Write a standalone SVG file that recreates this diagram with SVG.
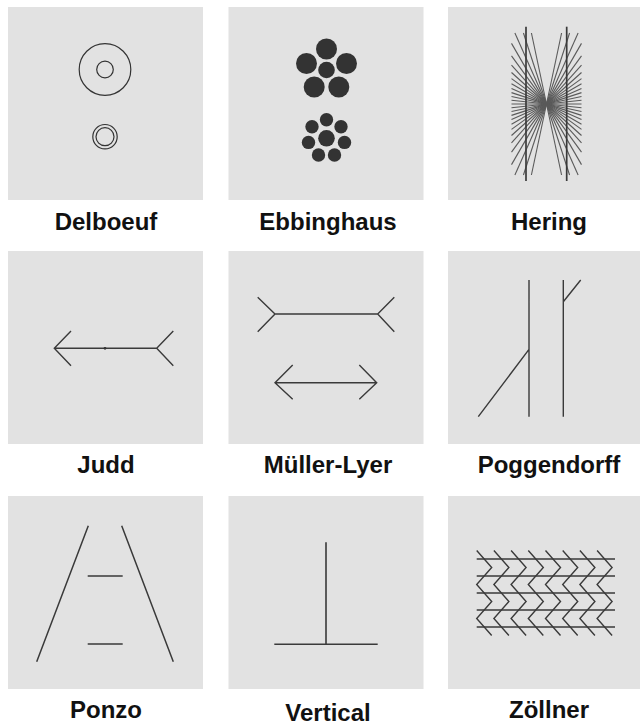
<svg xmlns="http://www.w3.org/2000/svg" width="640" height="726" viewBox="0 0 640 726">
<style>
.panel{fill:#e2e2e2;stroke:none}
.ln{stroke:#3a3a3a;stroke-width:1.4;fill:none;stroke-linecap:butt}
.ring{stroke:#333;stroke-width:1.2;fill:none}
.dot{fill:#333}
.ray{stroke:#5a5a5a;stroke-width:1.1}
.lbl{font-family:"Liberation Sans",Arial,sans-serif;font-weight:bold;font-size:24px;fill:#111;text-anchor:middle}
</style>
<rect width="640" height="726" fill="#ffffff"/>

<g id="delboeuf">
<rect class="panel" x="8" y="7" width="195" height="193"/>
<circle class="ring" cx="105" cy="69.5" r="25.8"/>
<circle class="ring" cx="105" cy="69.5" r="8.3"/>
<circle class="ring" cx="105" cy="136.7" r="12.2"/>
<circle class="ring" cx="105" cy="136.7" r="9"/>
<text class="lbl" x="106" y="230">Delboeuf</text>
</g>

<g id="ebbinghaus">
<rect class="panel" x="228.5" y="7" width="195" height="193"/>
<circle class="dot" cx="326.5" cy="70" r="8.3"/>
<circle class="dot" cx="326.5" cy="49" r="10.5"/>
<circle class="dot" cx="346.5" cy="63.5" r="10.5"/>
<circle class="dot" cx="338.8" cy="87" r="10.5"/>
<circle class="dot" cx="314.2" cy="87" r="10.5"/>
<circle class="dot" cx="306.5" cy="63.5" r="10.5"/>
<circle class="dot" cx="326.5" cy="138.3" r="8.3"/>
<circle class="dot" cx="326.5" cy="119.8" r="6.7"/>
<circle class="dot" cx="341" cy="126.8" r="6.7"/>
<circle class="dot" cx="344.5" cy="142.4" r="6.7"/>
<circle class="dot" cx="334.5" cy="155" r="6.7"/>
<circle class="dot" cx="318.5" cy="155" r="6.7"/>
<circle class="dot" cx="308.5" cy="142.4" r="6.7"/>
<circle class="dot" cx="312" cy="126.8" r="6.7"/>
<text class="lbl" x="328" y="230">Ebbinghaus</text>
</g>

<g id="hering">
<rect class="panel" x="448" y="7" width="195" height="193"/>
<g class="ray">
<line x1="511.5" y1="104" x2="581.5" y2="104"/>
<line x1="511.5" y1="100.32" x2="581.5" y2="107.68"/>
<line x1="511.5" y1="107.68" x2="581.5" y2="100.32"/>
<line x1="511.5" y1="96.56" x2="581.5" y2="111.44"/>
<line x1="511.5" y1="111.44" x2="581.5" y2="96.56"/>
<line x1="511.5" y1="92.63" x2="581.5" y2="115.37"/>
<line x1="511.5" y1="115.37" x2="581.5" y2="92.63"/>
<line x1="511.5" y1="88.42" x2="581.5" y2="119.58"/>
<line x1="511.5" y1="119.58" x2="581.5" y2="88.42"/>
<line x1="511.5" y1="83.79" x2="581.5" y2="124.21"/>
<line x1="511.5" y1="124.21" x2="581.5" y2="83.79"/>
<line x1="511.5" y1="78.57" x2="581.5" y2="129.43"/>
<line x1="511.5" y1="129.43" x2="581.5" y2="78.57"/>
<line x1="511.5" y1="72.49" x2="581.5" y2="135.51"/>
<line x1="511.5" y1="135.51" x2="581.5" y2="72.49"/>
<line x1="511.5" y1="65.13" x2="581.5" y2="142.87"/>
<line x1="511.5" y1="142.87" x2="581.5" y2="65.13"/>
<line x1="511.5" y1="55.83" x2="581.5" y2="152.17"/>
<line x1="511.5" y1="152.17" x2="581.5" y2="55.83"/>
<line x1="511.5" y1="43.38" x2="581.5" y2="164.62"/>
<line x1="511.5" y1="164.62" x2="581.5" y2="43.38"/>
<line x1="514.89" y1="33" x2="578.11" y2="175"/>
<line x1="514.89" y1="175" x2="578.11" y2="33"/>
<line x1="523.43" y1="33" x2="569.57" y2="175"/>
<line x1="523.43" y1="175" x2="569.57" y2="33"/>
<line x1="531.41" y1="33" x2="561.59" y2="175"/>
<line x1="531.41" y1="175" x2="561.59" y2="33"/>
</g>
<line class="ln" x1="526" y1="26.7" x2="526" y2="181" style="stroke-width:1.7"/>
<line class="ln" x1="566.7" y1="26.7" x2="566.7" y2="181" style="stroke-width:1.7"/>
<text class="lbl" x="549" y="230">Hering</text>
</g>

<g id="judd">
<rect class="panel" x="8" y="251" width="195" height="193"/>
<path class="ln" d="M54.3 348.3 H156.7 M71 331 L54.3 348.3 L71 365.7 M173.3 331 L156.7 348.3 L173.3 365.7"/>
<circle class="dot" cx="105" cy="348.3" r="1.4"/>
<text class="lbl" x="106" y="473">Judd</text>
</g>

<g id="muller-lyer">
<rect class="panel" x="228.5" y="251" width="195" height="193"/>
<path class="ln" d="M275 314 H377.7 M257.7 297.3 L275 314 L257.7 331.7 M394.3 297.3 L377.7 314 L394.3 331.7"/>
<path class="ln" d="M275 382.7 H376.7 M292.7 365 L275 382.7 L292.7 399.3 M359.3 365 L376.7 382.7 L359.3 399.3"/>
<text class="lbl" x="328" y="473">Müller-Lyer</text>
</g>

<g id="poggendorff">
<rect class="panel" x="448" y="251" width="195" height="193"/>
<path class="ln" d="M529 280 V416.7 M563.3 280 V416.7 M478.3 416.7 L529 349.3 M563.3 301.7 L580.7 280"/>
<text class="lbl" x="549" y="473">Poggendorff</text>
</g>

<g id="ponzo">
<rect class="panel" x="8" y="496" width="195" height="193"/>
<path class="ln" d="M36.7 661.7 L88.3 525.7 M121.7 525.7 L173.3 661.7 M87.7 576 H122.7 M87.7 644 H122.7" style="stroke-width:1.5"/>
<text class="lbl" x="106" y="718">Ponzo</text>
</g>

<g id="vertical">
<rect class="panel" x="228.5" y="496" width="195" height="193"/>
<path class="ln" d="M326 542.3 V644.3 M274.3 644.3 H377.7" style="stroke-width:1.6"/>
<text class="lbl" x="328" y="721">Vertical</text>
</g>

<g id="zollner">
<rect class="panel" x="448" y="496" width="195" height="193"/>
<path class="ln" d="M476.7 559 H615 M476.7 576 H615 M476.7 593 H615 M476.7 610 H615 M476.7 627 H615" style="stroke-width:1.6"/>
<g class="ln">
<polyline points="476.7,550.5 491.7,567.5 476.7,584.5 491.7,601.5 476.7,618.5 491.7,635.5"/>
<polyline points="493.9,550.5 508.9,567.5 493.9,584.5 508.9,601.5 493.9,618.5 508.9,635.5"/>
<polyline points="511.1,550.5 526.1,567.5 511.1,584.5 526.1,601.5 511.1,618.5 526.1,635.5"/>
<polyline points="528.3,550.5 543.3,567.5 528.3,584.5 543.3,601.5 528.3,618.5 543.3,635.5"/>
<polyline points="545.5,550.5 560.5,567.5 545.5,584.5 560.5,601.5 545.5,618.5 560.5,635.5"/>
<polyline points="562.7,550.5 577.7,567.5 562.7,584.5 577.7,601.5 562.7,618.5 577.7,635.5"/>
<polyline points="579.9,550.5 594.9,567.5 579.9,584.5 594.9,601.5 579.9,618.5 594.9,635.5"/>
<polyline points="597.1,550.5 612.1,567.5 597.1,584.5 612.1,601.5 597.1,618.5 612.1,635.5"/>
</g>
<text class="lbl" x="549" y="718">Zöllner</text>
</g>
</svg>
